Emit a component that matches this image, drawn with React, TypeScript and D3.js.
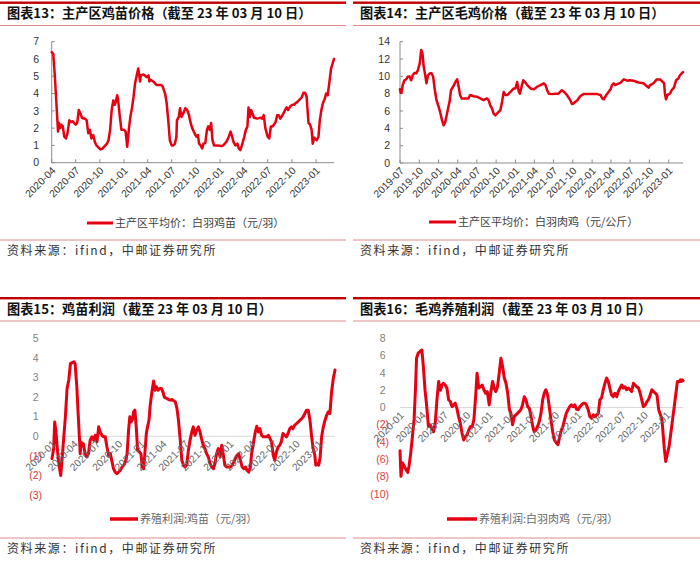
import * as d3 from 'd3';

type Pt = [string, number];

// 主产区平均价：白羽鸡苗（元/羽）
const chickPrice: Pt[] = [
  ['2020-04-01', 6.4], ['2020-04-07', 6.3], ['2020-04-13', 5.0], ['2020-04-19', 3.4], ['2020-04-25', 1.8],
  ['2020-04-29', 2.3], ['2020-05-03', 2.0], ['2020-05-07', 2.2], ['2020-05-13', 2.1], ['2020-05-19', 1.5],
  ['2020-05-25', 1.4], ['2020-05-31', 1.7], ['2020-06-07', 2.45], ['2020-06-13', 2.35], ['2020-06-19', 2.4],
  ['2020-07-01', 2.2], ['2020-07-07', 2.3], ['2020-07-13', 3.05], ['2020-07-19', 2.85], ['2020-07-25', 2.6],
  ['2020-07-31', 2.55], ['2020-08-06', 2.55], ['2020-08-12', 2.45], ['2020-08-18', 1.7], ['2020-08-24', 1.9],
  ['2020-08-30', 1.4], ['2020-09-06', 1.6], ['2020-09-12', 1.2], ['2020-09-18', 1.0], ['2020-10-01', 0.8],
  ['2020-10-04', 0.77], ['2020-10-10', 0.8], ['2020-10-16', 0.9], ['2020-10-22', 1.0], ['2020-10-28', 1.1],
  ['2020-11-03', 1.3], ['2020-11-09', 1.9], ['2020-11-15', 3.05], ['2020-11-21', 3.6], ['2020-11-27', 3.35],
  ['2020-12-01', 3.55], ['2020-12-06', 3.9], ['2020-12-09', 3.7], ['2020-12-16', 2.65], ['2020-12-22', 1.9],
  ['2021-01-01', 1.9], ['2021-01-07', 1.8], ['2021-01-13', 0.92], ['2021-01-19', 1.9], ['2021-01-25', 2.65],
  ['2021-01-31', 3.15], ['2021-02-06', 3.8], ['2021-02-12', 4.6], ['2021-02-18', 5.05], ['2021-02-24', 5.45],
  ['2021-03-03', 4.7], ['2021-03-06', 5.05], ['2021-03-15', 5.1], ['2021-03-21', 5.05], ['2021-03-27', 4.95],
  ['2021-04-04', 5.05], ['2021-04-07', 4.7], ['2021-04-12', 4.8], ['2021-04-22', 4.7], ['2021-04-28', 4.6],
  ['2021-05-04', 4.5], ['2021-05-10', 4.5], ['2021-05-22', 4.5], ['2021-05-28', 4.4], ['2021-06-06', 4.0],
  ['2021-06-12', 3.45], ['2021-06-18', 2.45], ['2021-06-24', 1.3], ['2021-07-01', 1.0], ['2021-07-07', 1.0],
  ['2021-07-13', 1.08], ['2021-07-19', 1.5], ['2021-07-21', 2.45], ['2021-07-28', 2.65], ['2021-08-02', 3.15],
  ['2021-08-07', 2.65], ['2021-08-14', 2.85], ['2021-08-22', 3.15], ['2021-08-29', 3.05], ['2021-09-05', 2.75],
  ['2021-09-11', 2.3], ['2021-09-17', 2.0], ['2021-09-23', 1.8], ['2021-10-03', 1.5], ['2021-10-09', 1.6],
  ['2021-10-13', 1.1], ['2021-10-19', 1.0], ['2021-10-25', 0.83], ['2021-10-30', 1.1], ['2021-11-06', 1.15],
  ['2021-11-12', 1.9], ['2021-11-17', 2.1], ['2021-11-23', 1.9], ['2021-11-28', 2.3], ['2021-12-03', 1.3],
  ['2021-12-09', 1.0], ['2021-12-21', 1.0], ['2022-01-07', 0.96], ['2022-01-13', 1.0], ['2022-01-25', 1.2],
  ['2022-02-03', 1.5], ['2022-02-10', 1.8], ['2022-02-16', 1.5], ['2022-02-21', 1.2], ['2022-02-28', 1.0],
  ['2022-03-08', 1.1], ['2022-03-13', 0.83], ['2022-03-19', 0.73], ['2022-03-25', 1.0], ['2022-04-03', 1.5],
  ['2022-04-09', 1.9], ['2022-04-15', 2.1], ['2022-04-19', 3.2], ['2022-04-24', 2.65], ['2022-04-29', 3.05],
  ['2022-05-04', 2.85], ['2022-05-10', 2.6], ['2022-05-22', 2.55], ['2022-06-04', 2.6], ['2022-06-10', 2.55],
  ['2022-06-16', 2.75], ['2022-06-22', 2.0], ['2022-07-01', 1.5], ['2022-07-07', 1.4], ['2022-07-13', 2.1],
  ['2022-07-19', 2.1], ['2022-07-25', 2.2], ['2022-07-31', 2.35], ['2022-08-06', 2.75], ['2022-08-12', 2.75],
  ['2022-08-18', 2.55], ['2022-08-24', 2.7], ['2022-08-30', 2.85], ['2022-09-05', 3.05], ['2022-09-11', 3.2],
  ['2022-09-17', 3.05], ['2022-09-24', 3.25], ['2022-10-03', 3.35], ['2022-10-09', 3.35], ['2022-10-15', 3.45],
  ['2022-10-21', 3.5], ['2022-10-27', 3.6], ['2022-11-02', 3.7], ['2022-11-08', 3.8], ['2022-11-14', 4.05],
  ['2022-11-20', 4.05], ['2022-11-26', 3.8], ['2022-12-03', 2.3], ['2022-12-09', 2.2], ['2022-12-15', 1.9],
  ['2022-12-19', 1.1], ['2022-12-25', 1.45], ['2023-01-03', 1.3], ['2023-01-10', 1.5], ['2023-01-15', 2.45],
  ['2023-01-21', 3.05], ['2023-01-27', 3.45], ['2023-02-03', 3.7], ['2023-02-08', 4.0], ['2023-02-14', 3.9],
  ['2023-02-20', 4.6], ['2023-02-27', 5.45], ['2023-03-10', 6.0],
];

// 主产区平均价：白羽肉鸡（元/公斤）
const broilerPrice: Pt[] = [
  ['2019-07-01', 8.5], ['2019-07-04', 8.1], ['2019-07-08', 8.1], ['2019-07-14', 9.0], ['2019-07-22', 9.55],
  ['2019-07-30', 9.65], ['2019-08-07', 9.95], ['2019-08-15', 10.0], ['2019-08-23', 9.55], ['2019-08-31', 10.15],
  ['2019-09-08', 10.4], ['2019-09-16', 10.35], ['2019-09-24', 10.7], ['2019-10-03', 11.5], ['2019-10-10', 13.05],
  ['2019-10-16', 12.65], ['2019-10-22', 11.1], ['2019-10-29', 10.15], ['2019-11-04', 9.2], ['2019-11-12', 10.15],
  ['2019-11-20', 10.35], ['2019-11-28', 10.35], ['2019-12-06', 9.95], ['2019-12-14', 8.4], ['2019-12-22', 7.25],
  ['2020-01-01', 6.5], ['2020-01-09', 5.8], ['2020-01-17', 4.95], ['2020-01-25', 4.35], ['2020-02-02', 4.75],
  ['2020-02-10', 5.7], ['2020-02-18', 6.65], ['2020-02-22', 7.05], ['2020-02-29', 8.4], ['2020-03-10', 8.8],
  ['2020-03-21', 9.35], ['2020-03-29', 9.65], ['2020-04-04', 9.0], ['2020-04-12', 7.85], ['2020-04-20', 7.45],
  ['2020-05-06', 7.45], ['2020-05-22', 7.45], ['2020-05-30', 7.85], ['2020-06-15', 7.7], ['2020-07-01', 7.65],
  ['2020-07-17', 7.45], ['2020-08-02', 7.25], ['2020-08-18', 7.45], ['2020-08-26', 7.25], ['2020-09-03', 6.65],
  ['2020-09-11', 6.3], ['2020-09-19', 5.7], ['2020-09-27', 5.5], ['2020-10-05', 5.7], ['2020-10-13', 5.9],
  ['2020-10-21', 6.1], ['2020-10-29', 7.05], ['2020-11-06', 8.2], ['2020-11-14', 7.85], ['2020-11-22', 7.85],
  ['2020-11-30', 8.0], ['2020-12-08', 8.2], ['2020-12-16', 8.4], ['2020-12-24', 8.6], ['2021-01-01', 8.6],
  ['2021-01-09', 9.35], ['2021-01-17', 8.2], ['2021-01-22', 8.0], ['2021-01-28', 8.6], ['2021-02-07', 9.55],
  ['2021-02-18', 9.25], ['2021-02-26', 9.0], ['2021-03-14', 8.6], ['2021-03-30', 8.5], ['2021-04-14', 8.8],
  ['2021-04-30', 9.0], ['2021-05-16', 9.2], ['2021-05-24', 9.0], ['2021-06-01', 8.4], ['2021-06-09', 8.0],
  ['2021-06-25', 7.95], ['2021-07-09', 8.0], ['2021-07-25', 8.0], ['2021-08-10', 8.4], ['2021-08-21', 8.2],
  ['2021-09-03', 7.85], ['2021-09-19', 7.25], ['2021-09-27', 6.8], ['2021-10-04', 6.85], ['2021-10-12', 7.05],
  ['2021-10-23', 7.25], ['2021-11-05', 7.7], ['2021-11-21', 7.95], ['2021-12-07', 7.95], ['2021-12-23', 7.95],
  ['2022-01-09', 7.95], ['2022-01-25', 7.95], ['2022-02-10', 7.85], ['2022-02-18', 7.45], ['2022-02-26', 7.35],
  ['2022-03-06', 7.7], ['2022-03-14', 8.0], ['2022-03-30', 8.5], ['2022-04-06', 9.0], ['2022-04-14', 9.2],
  ['2022-04-22', 9.0], ['2022-04-30', 9.1], ['2022-05-16', 9.25], ['2022-06-01', 9.65], ['2022-06-17', 9.5],
  ['2022-07-01', 9.55], ['2022-07-17', 9.5], ['2022-08-02', 9.35], ['2022-08-18', 9.25], ['2022-09-03', 9.2],
  ['2022-09-19', 8.85], ['2022-09-27', 8.7], ['2022-10-04', 9.0], ['2022-10-20', 9.2], ['2022-11-05', 9.65],
  ['2022-11-21', 9.65], ['2022-12-03', 9.35], ['2022-12-10', 9.2], ['2022-12-14', 8.0], ['2022-12-19', 7.35],
  ['2022-12-26', 7.85], ['2023-01-07', 8.0], ['2023-01-15', 8.4], ['2023-01-26', 8.7], ['2023-02-05', 9.55],
  ['2023-02-16', 9.75], ['2023-02-24', 10.15], ['2023-03-10', 10.5],
];

// 养殖利润:鸡苗（元/羽）
const chickProfit: Pt[] = [
  ['2020-01-01', -1.14], ['2020-01-08', -0.63], ['2020-01-12', 0.73], ['2020-01-17', 0.3], ['2020-01-24', -0.8],
  ['2020-01-31', -1.57], ['2020-02-06', -2.0], ['2020-02-11', -1.23], ['2020-02-18', -0.12], ['2020-02-25', 0.99],
  ['2020-03-03', 2.44], ['2020-03-10', 2.87], ['2020-03-17', 3.72], ['2020-03-24', 3.75], ['2020-03-31', 3.8],
  ['2020-04-05', 3.72], ['2020-04-12', 2.53], ['2020-04-19', 0.82], ['2020-04-26', -0.89], ['2020-04-30', -0.29],
  ['2020-05-05', -0.46], ['2020-05-09', -0.38], ['2020-05-16', -0.89], ['2020-05-23', -1.06], ['2020-05-30', -0.89],
  ['2020-06-06', -0.2], ['2020-06-13', -0.03], ['2020-06-20', -0.2], ['2020-06-27', 0.05], ['2020-07-04', -0.29],
  ['2020-07-11', 0.48], ['2020-07-17', 0.22], ['2020-07-24', 0.05], ['2020-07-31', -0.03], ['2020-08-07', -0.03],
  ['2020-08-14', -0.55], ['2020-08-21', -0.97], ['2020-08-28', -0.89], ['2020-09-04', -1.31], ['2020-09-10', -1.66],
  ['2020-09-17', -1.83], ['2020-09-24', -1.91], ['2020-10-01', -1.83], ['2020-10-08', -1.74], ['2020-10-15', -1.57],
  ['2020-10-22', -1.48], ['2020-10-29', -1.31], ['2020-11-05', -0.89], ['2020-11-11', 0.31], ['2020-11-16', 0.99],
  ['2020-11-21', 0.73], ['2020-11-26', 0.82], ['2020-12-02', 1.25], ['2020-12-07', 1.33], ['2020-12-13', 0.39],
  ['2020-12-18', -0.72], ['2020-12-25', -0.8], ['2021-01-01', -0.89], ['2021-01-06', -1.57], ['2021-01-12', -1.66],
  ['2021-01-17', -0.89], ['2021-01-23', 0.14], ['2021-01-28', 0.48], ['2021-02-03', 0.82], ['2021-02-08', 1.59],
  ['2021-02-15', 2.27], ['2021-02-22', 2.82], ['2021-02-28', 2.35], ['2021-03-05', 2.53], ['2021-03-12', 2.35],
  ['2021-03-19', 2.44], ['2021-03-26', 2.44], ['2021-04-01', 2.27], ['2021-04-08', 1.98], ['2021-04-17', 1.93],
  ['2021-04-24', 1.88], ['2021-05-01', 1.84], ['2021-05-08', 1.88], ['2021-05-15', 1.81], ['2021-05-22', 1.76],
  ['2021-05-29', 1.42], ['2021-06-04', 0.82], ['2021-06-11', -0.12], ['2021-06-18', -1.23], ['2021-06-25', -1.48],
  ['2021-07-01', -1.57], ['2021-07-08', -1.48], ['2021-07-15', -0.72], ['2021-07-22', -0.2], ['2021-07-29', 0.22],
  ['2021-08-04', 0.48], ['2021-08-11', 0.05], ['2021-08-18', 0.31], ['2021-08-25', 0.48], ['2021-09-01', 0.22],
  ['2021-09-07', -0.12], ['2021-09-14', -0.46], ['2021-09-21', -0.63], ['2021-09-28', -0.89], ['2021-10-05', -1.06],
  ['2021-10-12', -1.4], ['2021-10-19', -1.57], ['2021-10-26', -1.66], ['2021-11-01', -1.4], ['2021-11-08', -0.89],
  ['2021-11-15', -0.63], ['2021-11-22', -1.06], ['2021-11-29', -0.46], ['2021-12-05', -0.89], ['2021-12-12', -1.48],
  ['2021-12-19', -1.57], ['2022-01-04', -1.57], ['2022-01-11', -1.48], ['2022-01-18', -1.31], ['2022-01-24', -1.14],
  ['2022-01-31', -0.97], ['2022-02-07', -0.89], ['2022-02-14', -1.23], ['2022-02-21', -1.57], ['2022-02-28', -1.66],
  ['2022-03-07', -1.57], ['2022-03-13', -1.74], ['2022-03-20', -1.83], ['2022-03-27', -1.57], ['2022-04-01', -0.89],
  ['2022-04-08', -0.38], ['2022-04-15', 0.14], ['2022-04-22', 0.51], ['2022-04-29', 0.22], ['2022-05-05', 0.39],
  ['2022-05-12', 0.05], ['2022-05-19', -0.03], ['2022-06-02', -0.03], ['2022-06-09', 0.05], ['2022-06-16', -0.12],
  ['2022-06-22', -0.29], ['2022-06-29', -0.97], ['2022-07-05', -1.23], ['2022-07-12', -0.8], ['2022-07-19', -0.55],
  ['2022-07-26', -0.46], ['2022-08-01', -0.29], ['2022-08-08', 0.14], ['2022-08-15', 0.05], ['2022-08-22', -0.03],
  ['2022-08-29', 0.14], ['2022-09-05', 0.39], ['2022-09-11', 0.48], ['2022-09-18', 0.39], ['2022-09-25', 0.56],
  ['2022-10-03', 0.65], ['2022-10-10', 0.73], ['2022-10-17', 0.82], ['2022-10-24', 0.9], ['2022-10-30', 0.99],
  ['2022-11-06', 1.16], ['2022-11-13', 1.33], ['2022-11-20', 1.33], ['2022-11-27', 0.82], ['2022-12-04', -0.03],
  ['2022-12-10', -0.63], ['2022-12-17', -0.97], ['2022-12-21', -1.48], ['2022-12-27', -1.4], ['2023-01-02', -1.48],
  ['2023-01-08', -1.06], ['2023-01-14', -0.03], ['2023-01-21', 0.48], ['2023-01-28', 0.82], ['2023-02-04', 1.08],
  ['2023-02-11', 1.25], ['2023-02-17', 1.16], ['2023-02-24', 2.27], ['2023-03-03', 2.95], ['2023-03-10', 3.38],
];

// 养殖利润:白羽肉鸡（元/羽）
const broilerProfit: Pt[] = [
  ['2020-01-01', -5.0], ['2020-01-05', -7.96], ['2020-01-11', -6.4], ['2020-01-19', -6.8], ['2020-01-26', -7.2],
  ['2020-02-02', -7.5], ['2020-02-07', -6.8], ['2020-02-14', -5.3], ['2020-02-21', -3.35], ['2020-02-28', -1.4],
  ['2020-03-05', 2.4], ['2020-03-09', 5.7], ['2020-03-16', 6.3], ['2020-03-23', 6.45], ['2020-03-31', 6.65],
  ['2020-04-06', 4.75], ['2020-04-13', 2.0], ['2020-04-20', 0.1], ['2020-04-27', -2.2], ['2020-05-04', -2.0],
  ['2020-05-11', -2.4], ['2020-05-18', -2.8], ['2020-05-25', -1.8], ['2020-06-01', 0.9], ['2020-06-08', 3.0],
  ['2020-06-15', 2.0], ['2020-06-22', 2.6], ['2020-06-28', 2.8], ['2020-07-05', 2.6], ['2020-07-12', 2.25],
  ['2020-07-19', 0.9], ['2020-07-26', 0.7], ['2020-08-02', 0.1], ['2020-08-09', 0.3], ['2020-08-15', 0.5],
  ['2020-08-22', -0.1], ['2020-08-29', -1.05], ['2020-09-05', -1.8], ['2020-09-12', -2.95], ['2020-09-19', -3.75],
  ['2020-09-26', -3.35], ['2020-10-03', -3.15], ['2020-10-10', -2.6], ['2020-10-17', -2.2], ['2020-10-24', -2.25],
  ['2020-10-31', -1.4], ['2020-11-07', 1.25], ['2020-11-13', 3.95], ['2020-11-20', 2.25], ['2020-11-27', 2.4],
  ['2020-12-04', 2.6], ['2020-12-11', 2.05], ['2020-12-18', 1.65], ['2020-12-25', 1.85], ['2021-01-02', 0.3],
  ['2021-01-09', 1.85], ['2021-01-16', 3.0], ['2021-01-22', 2.25], ['2021-01-29', 1.85], ['2021-02-05', 2.4],
  ['2021-02-12', 3.95], ['2021-02-19', 5.7], ['2021-02-26', 4.75], ['2021-03-05', 3.4], ['2021-03-12', 2.8],
  ['2021-03-19', 1.65], ['2021-03-26', -0.25], ['2021-04-01', -0.65], ['2021-04-08', -2.0], ['2021-04-15', -1.05],
  ['2021-04-22', -0.85], ['2021-04-29', -0.65], ['2021-05-06', -0.45], ['2021-05-12', -0.25], ['2021-05-19', 0.3],
  ['2021-05-26', 1.25], ['2021-06-02', 0.9], ['2021-06-09', 0.1], ['2021-06-16', -0.1], ['2021-06-23', -1.05],
  ['2021-06-30', -2.2], ['2021-07-06', -2.8], ['2021-07-13', -2.6], ['2021-07-20', -2.2], ['2021-07-27', -1.6],
  ['2021-08-03', -0.65], ['2021-08-10', 0.9], ['2021-08-16', 1.65], ['2021-08-23', 2.05], ['2021-08-30', 1.45],
  ['2021-09-06', 0.1], ['2021-09-13', -1.4], ['2021-09-20', -2.8], ['2021-09-27', -3.75], ['2021-10-05', -4.1],
  ['2021-10-12', -4.3], ['2021-10-19', -3.35], ['2021-10-26', -2.6], ['2021-11-01', -2.2], ['2021-11-08', -1.4],
  ['2021-11-15', -0.65], ['2021-11-22', -0.25], ['2021-11-29', 0.1], ['2021-12-06', 0.3], ['2021-12-13', 0.1],
  ['2021-12-20', 0.3], ['2021-12-27', -0.2], ['2022-01-03', -0.25], ['2022-01-10', 0.1], ['2022-01-17', 0.3],
  ['2022-01-24', 0.5], ['2022-01-31', 0.5], ['2022-02-06', 0.3], ['2022-02-13', -0.25], ['2022-02-20', -1.05],
  ['2022-02-27', -1.25], ['2022-03-06', -0.85], ['2022-03-13', -1.05], ['2022-03-20', -0.85], ['2022-03-27', -0.65],
  ['2022-04-02', 0.9], ['2022-04-09', 1.1], ['2022-04-16', 2.05], ['2022-04-23', 2.8], ['2022-04-30', 3.4],
  ['2022-05-07', 3.0], ['2022-05-13', 2.25], ['2022-05-20', 1.45], ['2022-05-27', 1.25], ['2022-06-03', 1.65],
  ['2022-06-10', 1.25], ['2022-06-17', 1.85], ['2022-06-24', 2.25], ['2022-07-01', 2.6], ['2022-07-08', 2.25],
  ['2022-07-15', 2.4], ['2022-07-21', 2.05], ['2022-07-28', 2.25], ['2022-08-04', 2.05], ['2022-08-11', 1.85],
  ['2022-08-18', 2.8], ['2022-08-25', 2.6], ['2022-09-01', 2.4], ['2022-09-08', 2.25], ['2022-09-15', 1.65],
  ['2022-09-21', 0.9], ['2022-09-28', 0.1], ['2022-10-06', 0.3], ['2022-10-13', 0.7], ['2022-10-19', 0.9],
  ['2022-10-26', 1.45], ['2022-11-02', 2.05], ['2022-11-09', 1.85], ['2022-11-16', 1.65], ['2022-11-23', 1.45],
  ['2022-11-30', -0.25], ['2022-12-07', -0.85], ['2022-12-13', -1.25], ['2022-12-18', -2.95], ['2022-12-23', -4.7],
  ['2022-12-29', -6.25], ['2023-01-05', -5.3], ['2023-01-12', -4.5], ['2023-01-19', -2.95], ['2023-01-26', -1.4],
  ['2023-02-02', 0.1], ['2023-02-08', 1.45], ['2023-02-15', 3.0], ['2023-02-22', 3.0], ['2023-02-28', 3.2],
  ['2023-03-03', 3.0], ['2023-03-07', 3.2], ['2023-03-10', 3.1],
];

const chickPriceTicks = [0, 1, 2, 3, 4, 5, 6, 7];
const broilerPriceTicks = [0, 2, 4, 6, 8, 10, 12, 14];
const chickProfitTicks = [-3, -2, -1, 0, 1, 2, 3, 4, 5];
const broilerProfitTicks = [-10, -8, -6, -4, -2, 0, 2, 4, 6, 8];

const chickPriceMonths = ['2020-04', '2020-07', '2020-10', '2021-01', '2021-04', '2021-07', '2021-10', '2022-01', '2022-04', '2022-07', '2022-10', '2023-01'];
const broilerPriceMonths = ['2019-07', '2019-10', '2020-01', '2020-04', '2020-07', '2020-10', '2021-01', '2021-04', '2021-07', '2021-10', '2022-01', '2022-04', '2022-07', '2022-10', '2023-01'];
const profitMonths = ['2020-01', '2020-04', '2020-07', '2020-10', '2021-01', '2021-04', '2021-07', '2021-10', '2022-01', '2022-04', '2022-07', '2022-10', '2023-01'];

const titles = [
  '图表13：主产区鸡苗价格（截至 23 年 03 月 10 日）',
  '图表14：主产区毛鸡价格（截至 23 年 03 月 10 日）',
  '图表15：鸡苗利润（截至 23 年 03 月 10 日）',
  '图表16：毛鸡养殖利润（截至 23 年 03 月 10 日）',
];
const legendNames = [
  '主产区平均价：白羽鸡苗（元/羽）',
  '主产区平均价：白羽肉鸡（元/公斤）',
  '养殖利润:鸡苗（元/羽）',
  '养殖利润:白羽肉鸡（元/羽）',
];
const sourceNote = '资料来源：ifind，中邮证券研究所';
const endDate = '2023-03-10';

const RED = '#e60012';
const CJK = '"Noto Sans CJK SC", "Noto Sans", sans-serif';
const NUM = '"Liberation Sans", Arial, sans-serif';
const parse = d3.timeParse('%Y-%m-%d');
const parseMonth = d3.timeParse('%Y-%m');

interface PanelProps {
  left: number;
  right: number;
  top: number;
  title: string;
  legend: string;
  data: Pt[];
  months: string[];
  yTicks: number[];
  profit: boolean;
  plot: { x0: number; x1: number; yTop: number; yBottom: number; labelX: number };
  legendPos: { y: number; x0: number; x1: number };
  lineWidth: number;
}

const Panel = (p: PanelProps) => {
  const x = d3.scaleTime()
    .domain([parseMonth(p.months[0])!, parse(endDate)!])
    .range([p.plot.x0, p.plot.x1]);
  const y = d3.scaleLinear()
    .domain(d3.extent(p.yTicks) as [number, number])
    .range([p.plot.yBottom, p.plot.yTop]);
  const line = d3.line<Pt>()
    .x(d => x(parse(d[0])!))
    .y(d => y(d[1]));

  const axisY = p.profit ? y(0) : p.plot.yBottom;
  const fmt = (v: number) => (v < 0 ? `(${-v})` : `${v}`);

  return (
    <g>
      {/* header */}
      <rect x={p.left} y={p.top + 1.5} width={p.right - p.left} height={2.4} fill="#c00000" />
      <text x={p.left + 7} y={p.top + 18} fontFamily={CJK} fontWeight={700} fontSize={13.2}
        fill="#111">{p.title}</text>
      <line x1={p.left} x2={p.right} y1={p.top + 25.5} y2={p.top + 25.5} stroke="#e08a8a" strokeWidth={1} />

      {/* axes */}
      {p.profit ? (
        <line x1={p.plot.x0} x2={p.plot.x1} y1={axisY} y2={axisY} stroke="#d9d9d9" strokeWidth={1.2} />
      ) : (
        <g stroke="#8c8c8c" strokeWidth={1}>
          <line x1={p.plot.x0} x2={p.plot.x0} y1={p.plot.yTop} y2={p.plot.yBottom} />
          <line x1={p.plot.x0} x2={p.plot.x1} y1={axisY} y2={axisY} />
          {p.yTicks.map(t => (
            <line key={t} x1={p.plot.x0} x2={p.plot.x0 + 3} y1={y(t)} y2={y(t)} />
          ))}
          {p.months.map(m => (
            <line key={m} x1={x(parseMonth(m)!)} x2={x(parseMonth(m)!)} y1={axisY} y2={axisY - 3.5} />
          ))}
        </g>
      )}

      {/* y labels */}
      {p.yTicks.map(t => (
        <text key={t} x={p.profit && t >= 0 ? p.plot.labelX - 3.5 : p.plot.labelX} y={y(t)} dy="0.35em"
          textAnchor="end" fontFamily={NUM} fontSize={10.5}
          fill={p.profit ? (t < 0 ? '#e03c3c' : '#7f7f7f') : '#333'}>
          {fmt(t)}
        </text>
      ))}

      {/* line */}
      <path d={line(p.data) || ''} fill="none" stroke={RED} strokeWidth={p.lineWidth}
        strokeLinejoin="round" strokeLinecap="round" />

      {/* x labels */}
      {p.months.map(m => (
        <text key={m} transform={`translate(${x(parseMonth(m)!) + 2},${axisY + 6}) rotate(-45)`}
          textAnchor="end" dy="0.35em" fontFamily={NUM} fontSize={10.3}
          fill={p.profit ? '#666' : '#333'}>
          {m}
        </text>
      ))}

      {/* legend */}
      <line x1={p.legendPos.x0} x2={p.legendPos.x1} y1={p.legendPos.y} y2={p.legendPos.y}
        stroke={RED} strokeWidth={p.profit ? 3.5 : 3} />
      <text x={p.legendPos.x1 + 2} y={p.legendPos.y} dy="0.36em" fontFamily={CJK} fontSize={11}
        fill={p.profit ? '#666' : '#404040'}>{p.legend}</text>
    </g>
  );
};

const Footer = ({ left, right, y }: { left: number; right: number; y: number }) => (
  <g>
    <line x1={left} x2={right} y1={y} y2={y} stroke="#e08a8a" strokeWidth={1} />
    <text x={left + 7} y={y + 15} fontFamily={CJK} fontSize={12} letterSpacing={1.6} fill="#333">
      {sourceNote}
    </text>
  </g>
);

const App = () => {
  const L = [0, 346];
  const R = [353, 700];
  return (
    <svg width={700} height={562} style={{ position: 'absolute', left: 0, top: 0, background: '#fff' }}>
      <rect width={700} height={562} fill="#fff" />
      <Panel left={L[0]} right={L[1]} top={0} title={titles[0]} legend={legendNames[0]} data={chickPrice}
        months={chickPriceMonths} yTicks={chickPriceTicks} profit={false} lineWidth={2.5}
        plot={{ x0: 51.7, x1: 334, yTop: 41.7, yBottom: 162.7, labelX: 39 }}
        legendPos={{ y: 223, x0: 87, x1: 113 }} />
      <Panel left={R[0]} right={R[1]} top={0} title={titles[1]} legend={legendNames[1]} data={broilerPrice}
        months={broilerPriceMonths} yTicks={broilerPriceTicks} profit={false} lineWidth={2.5}
        plot={{ x0: 400, x1: 683, yTop: 41.7, yBottom: 163, labelX: 390 }}
        legendPos={{ y: 222, x0: 429, x1: 456 }} />
      <Panel left={L[0]} right={L[1]} top={295.5} title={titles[2]} legend={legendNames[2]} data={chickProfit}
        months={profitMonths} yTicks={chickProfitTicks} profit={true} lineWidth={3}
        plot={{ x0: 52, x1: 335, yTop: 338.3, yBottom: 495, labelX: 42 }}
        legendPos={{ y: 519, x0: 110, x1: 138 }} />
      <Panel left={R[0]} right={R[1]} top={295.5} title={titles[3]} legend={legendNames[3]} data={broilerProfit}
        months={profitMonths} yTicks={broilerProfitTicks} profit={true} lineWidth={3}
        plot={{ x0: 400, x1: 683, yTop: 338.3, yBottom: 494, labelX: 389 }}
        legendPos={{ y: 519, x0: 447, x1: 477 }} />
      <Footer left={L[0]} right={L[1]} y={240} />
      <Footer left={R[0]} right={R[1]} y={240} />
      <Footer left={L[0]} right={L[1]} y={538} />
      <Footer left={R[0]} right={R[1]} y={538} />
    </svg>
  );
};

export default App;
